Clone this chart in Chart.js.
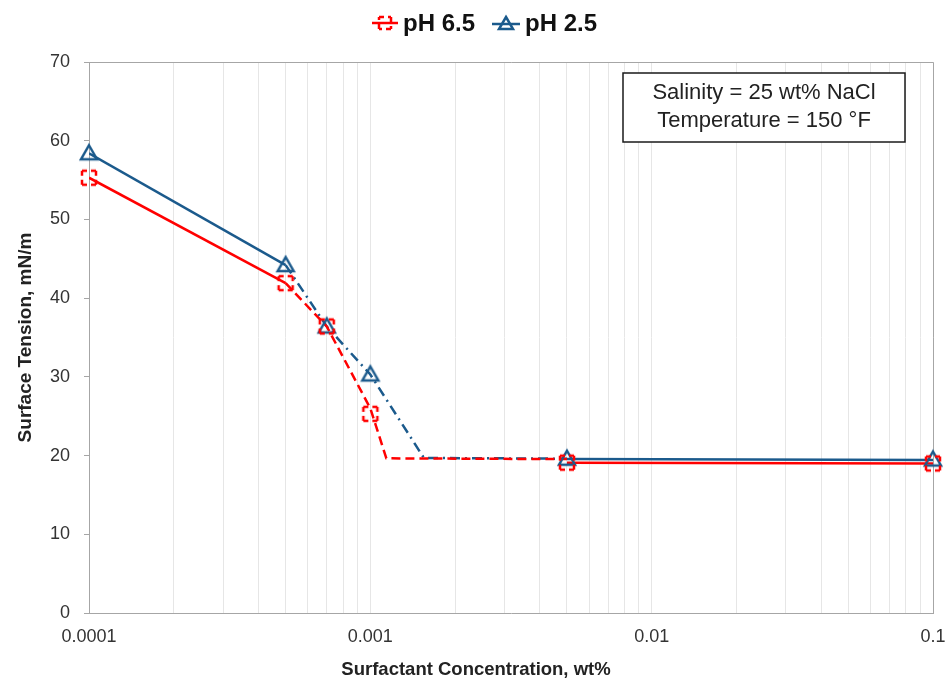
<!DOCTYPE html>
<html>
<head>
<meta charset="utf-8">
<script src="https://cdn.jsdelivr.net/npm/chart.js@4.4.1/dist/chart.umd.min.js"></script>
<style>
  html, body { margin: 0; padding: 0; background: #fff; }
</style>
</head>
<body>
<canvas id="chart" width="952" height="684"></canvas>
<script>
// measured points
const concentrations = [0.0001, 0.0005, 0.0007, 0.001, 0.005, 0.1]
const tensionPh65 = [55.3, 41.9, 36.4, 25.3, 19.1, 19.0]
const tensionPh25 = [58.4, 44.2, 36.4, 30.3, 19.6, 19.5]

// hand-drawn trend lines [x, y]
const ph65Low  = [[0.0001, 55.3], [0.0005, 41.9]]
const ph65Mid  = [[0.0005, 41.9], [0.0007, 36.4], [0.001, 26.0], [0.00114, 19.65], [0.005, 19.55]]
const ph65High = [[0.005, 19.1], [0.1, 19.0]]
const ph25Low  = [[0.0001, 58.4], [0.0005, 44.2]]
const ph25Mid  = [[0.0005, 44.2], [0.0007, 36.4], [0.001, 30.3], [0.00155, 19.7], [0.005, 19.6]]
const ph25High = [[0.005, 19.55], [0.1, 19.45]]

const xTickValues = [0.0001, 0.001, 0.01, 0.1]
const xTickLabels = ['0.0001', '0.001', '0.01', '0.1']
const seriesLabels = ['pH 6.5', 'pH 2.5']
const noteLines = ['Salinity = 25 wt% NaCl', 'Temperature = 150 °F']

const RED  = '#ff0000'
const BLUE = '#1b5a8c'
const FONT = "'Liberation Sans', Arial, sans-serif"

// log grid: 1..9 in every decade, plus the last major
const gridValues = []
xTickValues.slice(0, -1).forEach(d => {
  for (let m = 1; m <= 9; m++) gridValues.push(+(m * d).toPrecision(6))
})
gridValues.push(xTickValues[xTickValues.length - 1])

function drawSquare(g, cx, cy, s) {
  const h = s / 2
  const sides = [
    [cx - h, cy - h, cx + h, cy - h],
    [cx + h, cy - h, cx + h, cy + h],
    [cx + h, cy + h, cx - h, cy + h],
    [cx - h, cy + h, cx - h, cy - h],
  ]
  g.strokeStyle = RED
  g.lineWidth = 2.5
  g.setLineDash([5, 4])
  sides.forEach(([a, b, c, d]) => {
    g.beginPath(); g.moveTo(a, b); g.lineTo(c, d); g.stroke()
  })
  g.setLineDash([])
}

function drawTriangle(g, cx, cy, w, h) {
  g.strokeStyle = BLUE
  g.lineWidth = 2.5
  g.lineJoin = 'miter'
  g.beginPath()
  g.moveTo(cx, cy - h / 2)
  g.lineTo(cx + w / 2, cy + h / 2)
  g.lineTo(cx - w / 2, cy + h / 2)
  g.closePath()
  g.stroke()
}

function makeCanvas(w, h, fn) {
  const c = document.createElement('canvas')
  c.width = w; c.height = h
  fn(c.getContext('2d'))
  return c
}

const squareImg   = makeCanvas(22, 22, g => drawSquare(g, 11, 11, 14))
const triangleImg = makeCanvas(24, 24, g => drawTriangle(g, 12, 11, 16, 14))

const legendRed = makeCanvas(28, 20, g => {
  g.strokeStyle = RED; g.lineWidth = 2.5
  g.beginPath(); g.moveTo(1, 10); g.lineTo(27, 10); g.stroke()
  drawSquare(g, 14, 10, 12)
})
const legendBlue = makeCanvas(30, 20, g => {
  g.strokeStyle = BLUE; g.lineWidth = 2.5
  g.beginPath(); g.moveTo(1, 11); g.lineTo(29, 11); g.stroke()
  drawTriangle(g, 15, 10, 14, 12)
})

const pts = arr => arr.map(([x, y]) => ({ x, y }))

function trend(data, color, dash) {
  return {
    data: pts(data),
    showLine: true,
    borderColor: color,
    borderWidth: 2.5,
    borderDash: dash,
    pointRadius: 0,
    pointHoverRadius: 0,
    order: 2,
  }
}

const decorations = {
  id: 'decorations',
  beforeDatasetsDraw(chart) {
    const { ctx, chartArea: a } = chart
    ctx.save()
    ctx.strokeStyle = '#a6a6a6'
    ctx.lineWidth = 1
    ctx.beginPath()
    ctx.moveTo(a.left, a.top + 0.5)
    ctx.lineTo(a.right + 0.5, a.top + 0.5)
    ctx.lineTo(a.right + 0.5, a.bottom)
    ctx.stroke()
    ctx.restore()
  },
  afterDraw(chart) {
    const { ctx, chartArea: a, width } = chart
    ctx.save()

    // note box
    const bx = a.right - 310, by = a.top + 11, bw = 282, bh = 69
    ctx.fillStyle = '#fff'
    ctx.fillRect(bx, by, bw, bh)
    ctx.strokeStyle = '#1a1a1a'
    ctx.lineWidth = 1.5
    ctx.strokeRect(bx, by, bw, bh)
    ctx.fillStyle = '#222'
    ctx.font = `22px ${FONT}`
    ctx.textAlign = 'center'
    ctx.textBaseline = 'middle'
    ctx.fillText(noteLines[0], bx + bw / 2, by + 20)
    ctx.fillText(noteLines[1], bx + bw / 2, by + 48)

    // x axis title, centred on the page
    ctx.font = `bold 18.5px ${FONT}`
    ctx.fillStyle = '#222'
    ctx.fillText('Surfactant Concentration, wt%', width / 2, 670)

    // legend
    ctx.font = `bold 24px ${FONT}`
    ctx.fillStyle = '#111'
    ctx.textAlign = 'left'
    const imgs = [legendRed, legendBlue]
    const gap = 4, spacing = 16
    const widths = seriesLabels.map(t => ctx.measureText(t).width)
    let total = spacing
    imgs.forEach((img, i) => { total += img.width + gap + widths[i] })
    let x = 484 - total / 2
    const cy = 23
    imgs.forEach((img, i) => {
      ctx.drawImage(img, x, cy - img.height / 2)
      x += img.width + gap
      ctx.fillText(seriesLabels[i], x, cy + 1)
      x += widths[i] + spacing
    })
    ctx.restore()
  },
}

new Chart(document.getElementById('chart'), {
  type: 'scatter',
  data: {
    datasets: [
      {
        label: seriesLabels[0],
        data: concentrations.map((x, i) => ({ x, y: tensionPh65[i] })),
        pointStyle: squareImg,
        pointRadius: 7,
        showLine: false,
        clip: false,
        order: 0,
      },
      {
        label: seriesLabels[1],
        data: concentrations.map((x, i) => ({ x, y: tensionPh25[i] })),
        pointStyle: triangleImg,
        pointRadius: 7,
        showLine: false,
        clip: false,
        order: 0,
      },
      trend(ph65Low, RED, []),
      trend(ph65Mid, RED, [9, 5]),
      trend(ph65High, RED, []),
      trend(ph25Low, BLUE, []),
      trend(ph25Mid, BLUE, [10, 5, 2, 5]),
      trend(ph25High, BLUE, []),
    ],
  },
  options: {
    responsive: false,
    animation: false,
    devicePixelRatio: 1,
    layout: { padding: { top: 62, right: 19, left: 0, bottom: 0 } },
    plugins: {
      legend: { display: false },
      tooltip: { enabled: false },
    },
    scales: {
      x: {
        type: 'logarithmic',
        min: 0.0001,
        max: 0.1,
        afterBuildTicks: (axis) => { axis.ticks = gridValues.map(v => ({ value: v })) },
        afterFit: (s) => {
          s.height = 71
          s.paddingLeft = 0
          s.paddingRight = 0
        },
        ticks: {
          autoSkip: false,
          maxRotation: 0,
          padding: 13,
          color: '#333',
          font: { family: FONT, size: 18 },
          callback: (v) => {
            const i = xTickValues.findIndex(t => Math.abs(Math.log10(t) - Math.log10(v)) < 1e-6)
            return i >= 0 ? xTickLabels[i] : ''
          },
        },
        grid: { color: '#e6e6e6', drawTicks: false },
        border: { color: '#a6a6a6' },
      },
      y: {
        min: 0,
        max: 70,
        afterFit: (s) => { s.width = 89 },
        ticks: {
          stepSize: 10,
          padding: 14,
          color: '#333',
          font: { family: FONT, size: 18 },
        },
        grid: { drawOnChartArea: false, drawTicks: true, tickLength: 5, color: '#a6a6a6' },
        border: { color: '#a6a6a6' },
        title: {
          display: true,
          text: 'Surface Tension, mN/m',
          color: '#222',
          font: { family: FONT, size: 19, weight: 'bold' },
          padding: { top: 14, bottom: 0 },
        },
      },
    },
  },
  plugins: [decorations],
})
</script>
</body>
</html>
